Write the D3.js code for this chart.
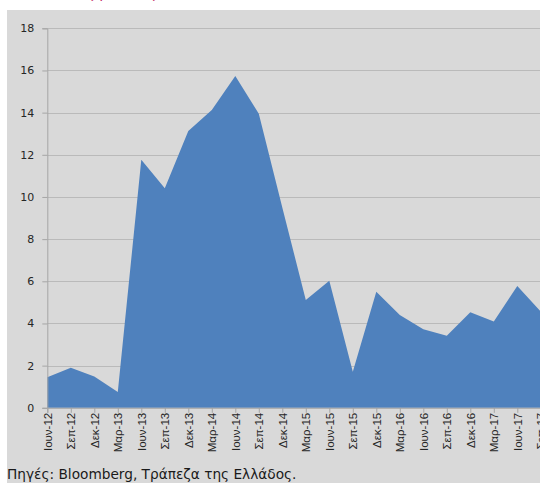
<!DOCTYPE html>
<html>
<head>
<meta charset="utf-8">
<script src="https://cdn.jsdelivr.net/npm/d3@7"></script>
<style>
  html, body { margin: 0; padding: 0; background: #ffffff; }
  svg { display: block; }
</style>
</head>
<body>
<svg id="chart" width="540" height="483"></svg>
<script>
// Quarterly observations, June 2012 – September 2017
const categories = [
  "Ιουν-12", "Σεπ-12", "Δεκ-12", "Μαρ-13", "Ιουν-13", "Σεπ-13", "Δεκ-13", "Μαρ-14",
  "Ιουν-14", "Σεπ-14", "Δεκ-14", "Μαρ-15", "Ιουν-15", "Σεπ-15", "Δεκ-15", "Μαρ-16",
  "Ιουν-16", "Σεπ-16", "Δεκ-16", "Μαρ-17", "Ιουν-17", "Σεπ-17"
];
const values = [
  1.45, 1.90, 1.48, 0.75, 11.76, 10.41, 13.13, 14.13,
  15.74, 13.95, 9.5, 5.11, 6.03, 1.71, 5.51, 4.40,
  3.72, 3.42, 4.53, 4.09, 5.78, 4.56
];
const yTicks = [0, 2, 4, 6, 8, 10, 12, 14, 16, 18];
const sourceNote = "Πηγές: Bloomberg, Τράπεζα της Ελλάδος.";
const unitNote = "(ποσοστιαίες μονάδες)";

const svg = d3.select("#chart");
const W = 540, H = 483;

// panel background
svg.append("rect")
  .attr("x", 7).attr("y", 10)
  .attr("width", W - 7).attr("height", H - 10)
  .attr("fill", "#d9d9d9");

// heading, cut at the top edge
svg.append("text")
  .attr("x", 6).attr("y", -2)
  .attr("font-family", "DejaVu Sans, sans-serif")
  .attr("font-size", 14)
  .attr("fill", "#c2185b")
  .attr("textLength", 156)
  .attr("lengthAdjust", "spacingAndGlyphs")
  .text(unitNote);

const plotLeft = 47.3, plotTop = 28.3, plotBottom = 407.8;
const x = d3.scalePoint().domain(categories).range([plotLeft, 540.8]);
const y = d3.scaleLinear().domain([0, 18]).range([plotBottom, plotTop]);

// horizontal gridlines
svg.append("g")
  .selectAll("line")
  .data(yTicks.filter(d => d > 0))
  .join("line")
  .attr("x1", plotLeft).attr("x2", W)
  .attr("y1", d => Math.round(y(d)) + 0.5)
  .attr("y2", d => Math.round(y(d)) + 0.5)
  .attr("stroke", "#bababa")
  .attr("stroke-width", 1.2);

// area series
const area = d3.area()
  .x((d, i) => x(categories[i]))
  .y0(y(0))
  .y1(d => y(d));

svg.append("path")
  .datum(values)
  .attr("d", area)
  .attr("fill", "#4f81bd");

// y axis
const yAxis = d3.axisLeft(y)
  .tickValues(yTicks)
  .tickSize(5)
  .tickPadding(8)
  .tickFormat(d3.format("d"));
const gy = svg.append("g")
  .attr("transform", `translate(${plotLeft},0)`)
  .call(yAxis);
gy.select(".domain").attr("stroke", "#a6a6a6");
gy.selectAll(".tick line").attr("stroke", "#a6a6a6");
gy.selectAll(".tick text")
  .attr("font-family", "DejaVu Sans, Verdana, sans-serif")
  .attr("font-size", 11)
  .attr("fill", "#262626");

// x axis
const xAxis = d3.axisBottom(x).tickSize(5).tickPadding(4);
const gx = svg.append("g")
  .attr("transform", `translate(0,${plotBottom})`)
  .call(xAxis);
gx.select(".domain").attr("stroke", "#a6a6a6");
gx.selectAll(".tick line").attr("stroke", "#a6a6a6");
gx.selectAll(".tick text")
  .attr("font-family", "Liberation Sans Narrow, Arial Narrow, sans-serif")
  .attr("font-size", 11.5)
  .attr("fill", "#262626")
  .attr("text-anchor", "end")
  .attr("dy", "0.35em")
  .attr("transform", "rotate(-90)")
  .attr("x", -5)
  .attr("y", 0);

// source note
svg.append("text")
  .attr("x", 7).attr("y", 479)
  .attr("font-family", "DejaVu Sans, Verdana, sans-serif")
  .attr("font-size", 13.7)
  .attr("fill", "#1a1a1a")
  .text(sourceNote);
</script>
</body>
</html>
